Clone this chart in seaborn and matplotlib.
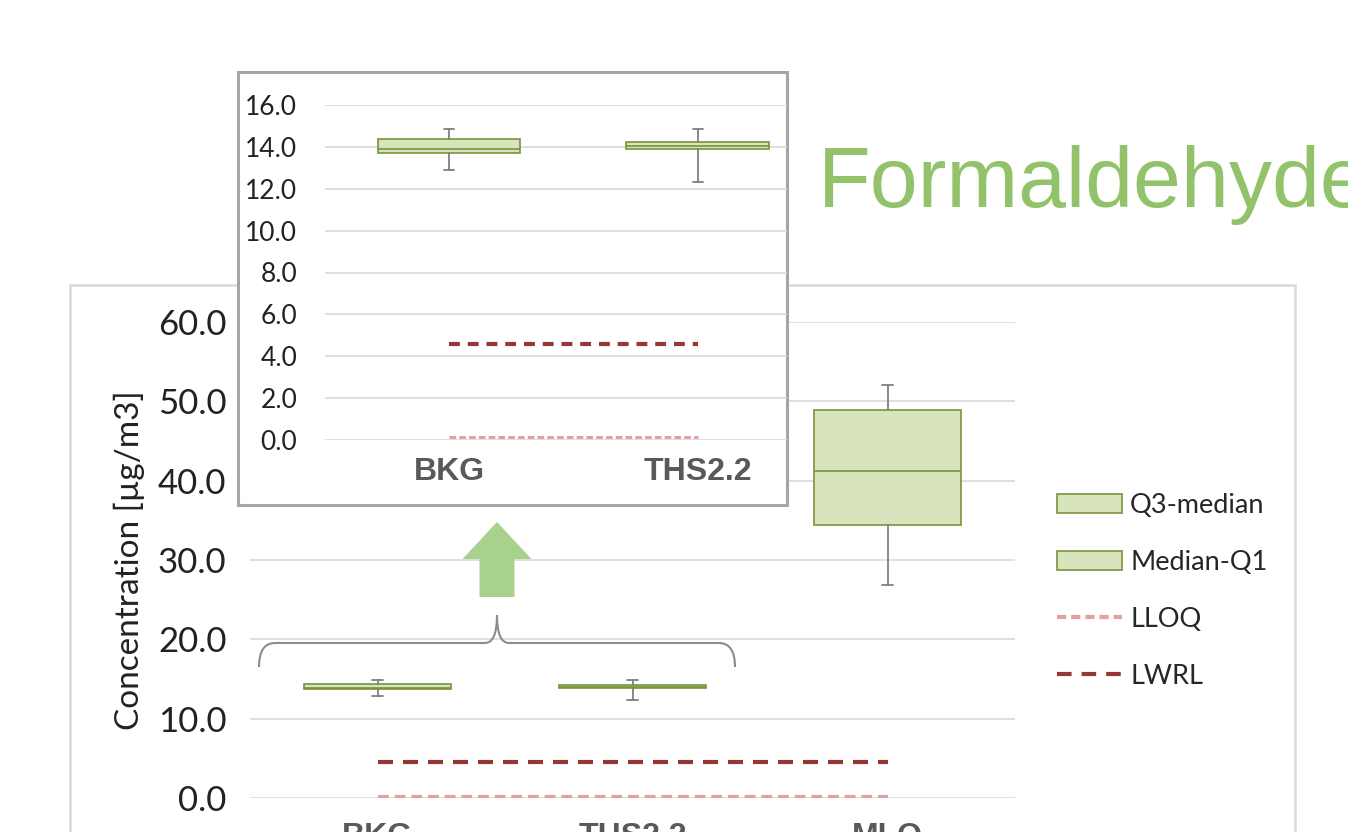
import numpy as np
import matplotlib
matplotlib.use("Agg")
import matplotlib.pyplot as plt
import matplotlib.patches as mpatches
import matplotlib.transforms as mtransforms
from matplotlib.path import Path
from matplotlib.lines import Line2D
import seaborn as sns

# values
groups = ["BKG", "THS2.2", "MLO"]
whisker_low = [12.9, 12.33, 26.8]
q1 = [13.73, 13.89, 34.4]
median = [13.92, 14.05, 41.2]
q3 = [14.37, 14.21, 48.9]
whisker_high = [14.84, 14.84, 52.1]
lloq = [0.15, 0.15, 0.15]
lwrl = [4.6, 4.6, 4.6]

main_ticks = [0, 10, 20, 30, 40, 50, 60]
inset_ticks = [0, 2, 4, 6, 8, 10, 12, 14, 16]
legend_labels = ["Q3-median", "Median-Q1", "LLOQ", "LWRL"]
title = "Formaldehyde"
ylabel = "Concentration [µg/m3]"

FILL = "#d7e4bd"
EDGE = "#77933c"
WHISK = "#7f7f7f"
LLOQ_C = "#e3a0a0"
LWRL_C = "#953735"
GRID = "#d9d9d9"
LABEL_C = "#595959"

sns.set_style("white")
plt.rcParams["font.family"] = ["Lato", "DejaVu Sans"]

W, H = 1348, 832
fig = plt.figure(figsize=(W / 100, H / 100), dpi=100)
px = mtransforms.Affine2D().scale(1 / W, 1 / H) + fig.transFigure


def draw_boxes(ax, n, lw_lloq, ls_lloq, lw_lwrl, ls_lwrl):
    stats = []
    for i in range(n):
        stats.append(dict(med=median[i], q1=q1[i], q3=q3[i],
                          whislo=whisker_low[i], whishi=whisker_high[i],
                          fliers=[], label=groups[i]))
    ax.bxp(stats, positions=list(range(n)), widths=0.573, patch_artist=True,
           showfliers=False, capwidths=[0.04] * n,
           boxprops=dict(facecolor=FILL, edgecolor=EDGE, linewidth=1.2),
           medianprops=dict(color=EDGE, linewidth=1.2),
           whiskerprops=dict(color=WHISK, linewidth=1.3),
           capprops=dict(color=WHISK, linewidth=1.3))
    xs = np.arange(n)
    sns.lineplot(x=xs, y=lloq[:n], ax=ax, color=LLOQ_C, lw=lw_lloq, linestyle=ls_lloq)
    sns.lineplot(x=xs, y=lwrl[:n], ax=ax, color=LWRL_C, lw=lw_lwrl, linestyle=ls_lwrl)
    ax.grid(axis="y", color=GRID, lw=1.2)
    ax.grid(axis="x", visible=False)
    ax.set_axisbelow(True)
    for s in ax.spines.values():
        s.set_visible(False)
    ax.set_facecolor("none")
    ax.tick_params(length=0)


# outer frame of the main chart
fig.add_artist(mpatches.Rectangle((70, -10), 1225, H - 285 + 10, transform=px,
                                  fill=False, edgecolor=GRID, lw=1.8, zorder=-1))

# main chart
ax = fig.add_axes([250 / W, 1 - 798 / H, 765 / W, 476 / H])
ax.set_zorder(0)
draw_boxes(ax, 3, 3, (0, (2.6, 1.4)), 3, (0, (3.6, 2.4)))
ax.set_xlim(-0.5, 2.5)
ax.set_ylim(0, 60)
ax.set_yticks(main_ticks)
ax.set_yticklabels([f"{v:.1f}" for v in main_ticks], fontsize=25, color="#222222")
ax.set_xticks(range(3))
ax.set_xticklabels(groups, fontsize=23, fontweight="bold", color=LABEL_C,
                   family="Liberation Sans")
ax.tick_params(axis="y", pad=17)
ax.tick_params(axis="x", pad=17)
ax.set_ylabel(ylabel, fontsize=24, color="#222222")
ax.yaxis.set_label_coords(-0.137, 0.5)

# inset frame
fig.add_artist(mpatches.Rectangle((238, H - 505), 549, 433, transform=px,
                                  facecolor="white", edgecolor="#a6a6a6", lw=2.2, zorder=1))

# inset chart (zoom on BKG / THS2.2)
ax2 = fig.add_axes([325 / W, 1 - 440 / H, 462 / W, 335 / H])
ax2.set_zorder(2)
draw_boxes(ax2, 2, 2.2, (0, (2.2, 1.0)), 3, (0, (2.6, 1.9)))
ax2.set_xlim(-0.5, 1.36)
ax2.set_ylim(0, 16)
ax2.set_yticks(inset_ticks)
ax2.set_yticklabels([f"{v:.1f}" for v in inset_ticks], fontsize=19, color="#222222")
ax2.set_xticks(range(2))
ax2.set_xticklabels(groups[:2], fontsize=23, fontweight="bold", color=LABEL_C,
                    family="Liberation Sans")
ax2.tick_params(axis="y", pad=20)
ax2.tick_params(axis="x", pad=12)

# brace and arrow linking the two charts
verts = [(259, 667), (259, 643), (275, 643), (485, 643), (497, 643), (497, 615),
         (497, 643), (509, 643), (719, 643), (735, 643), (735, 667)]
codes = [Path.MOVETO, Path.CURVE3, Path.CURVE3, Path.LINETO, Path.CURVE3, Path.CURVE3,
         Path.CURVE3, Path.CURVE3, Path.LINETO, Path.CURVE3, Path.CURVE3]
verts = [(x, H - y) for x, y in verts]
fig.add_artist(mpatches.PathPatch(Path(verts, codes), transform=px, fill=False,
                                  edgecolor="#8c8c8c", lw=1.5, zorder=3))
fig.add_artist(mpatches.FancyArrow(497, H - 597, 0, 75, width=35, head_width=69,
                                   head_length=37, length_includes_head=True,
                                   transform=px, color="#a9d18e", lw=0, zorder=3))

# title
fig.text(818 / W, 1 - 207 / H, title, fontsize=62, color="#92c36a",
         family="Liberation Sans", va="baseline", ha="left")

# legend
handles = [mpatches.Patch(facecolor=FILL, edgecolor=EDGE, lw=1.2),
           mpatches.Patch(facecolor=FILL, edgecolor=EDGE, lw=1.2),
           Line2D([], [], color=LLOQ_C, lw=3, linestyle=(0, (2.2, 1.2))),
           Line2D([], [], color=LWRL_C, lw=3, linestyle=(0, (3.5, 2.4)))]
fig.legend(handles, legend_labels, loc="upper left",
           bbox_to_anchor=(1057 / W, 1 - 493 / H), frameon=False, fontsize=19.5,
           handlelength=2.4, handleheight=0.7, labelspacing=1.18,
           handletextpad=0.3, borderpad=0, borderaxespad=0)

fig.savefig("out.png", dpi=100)
